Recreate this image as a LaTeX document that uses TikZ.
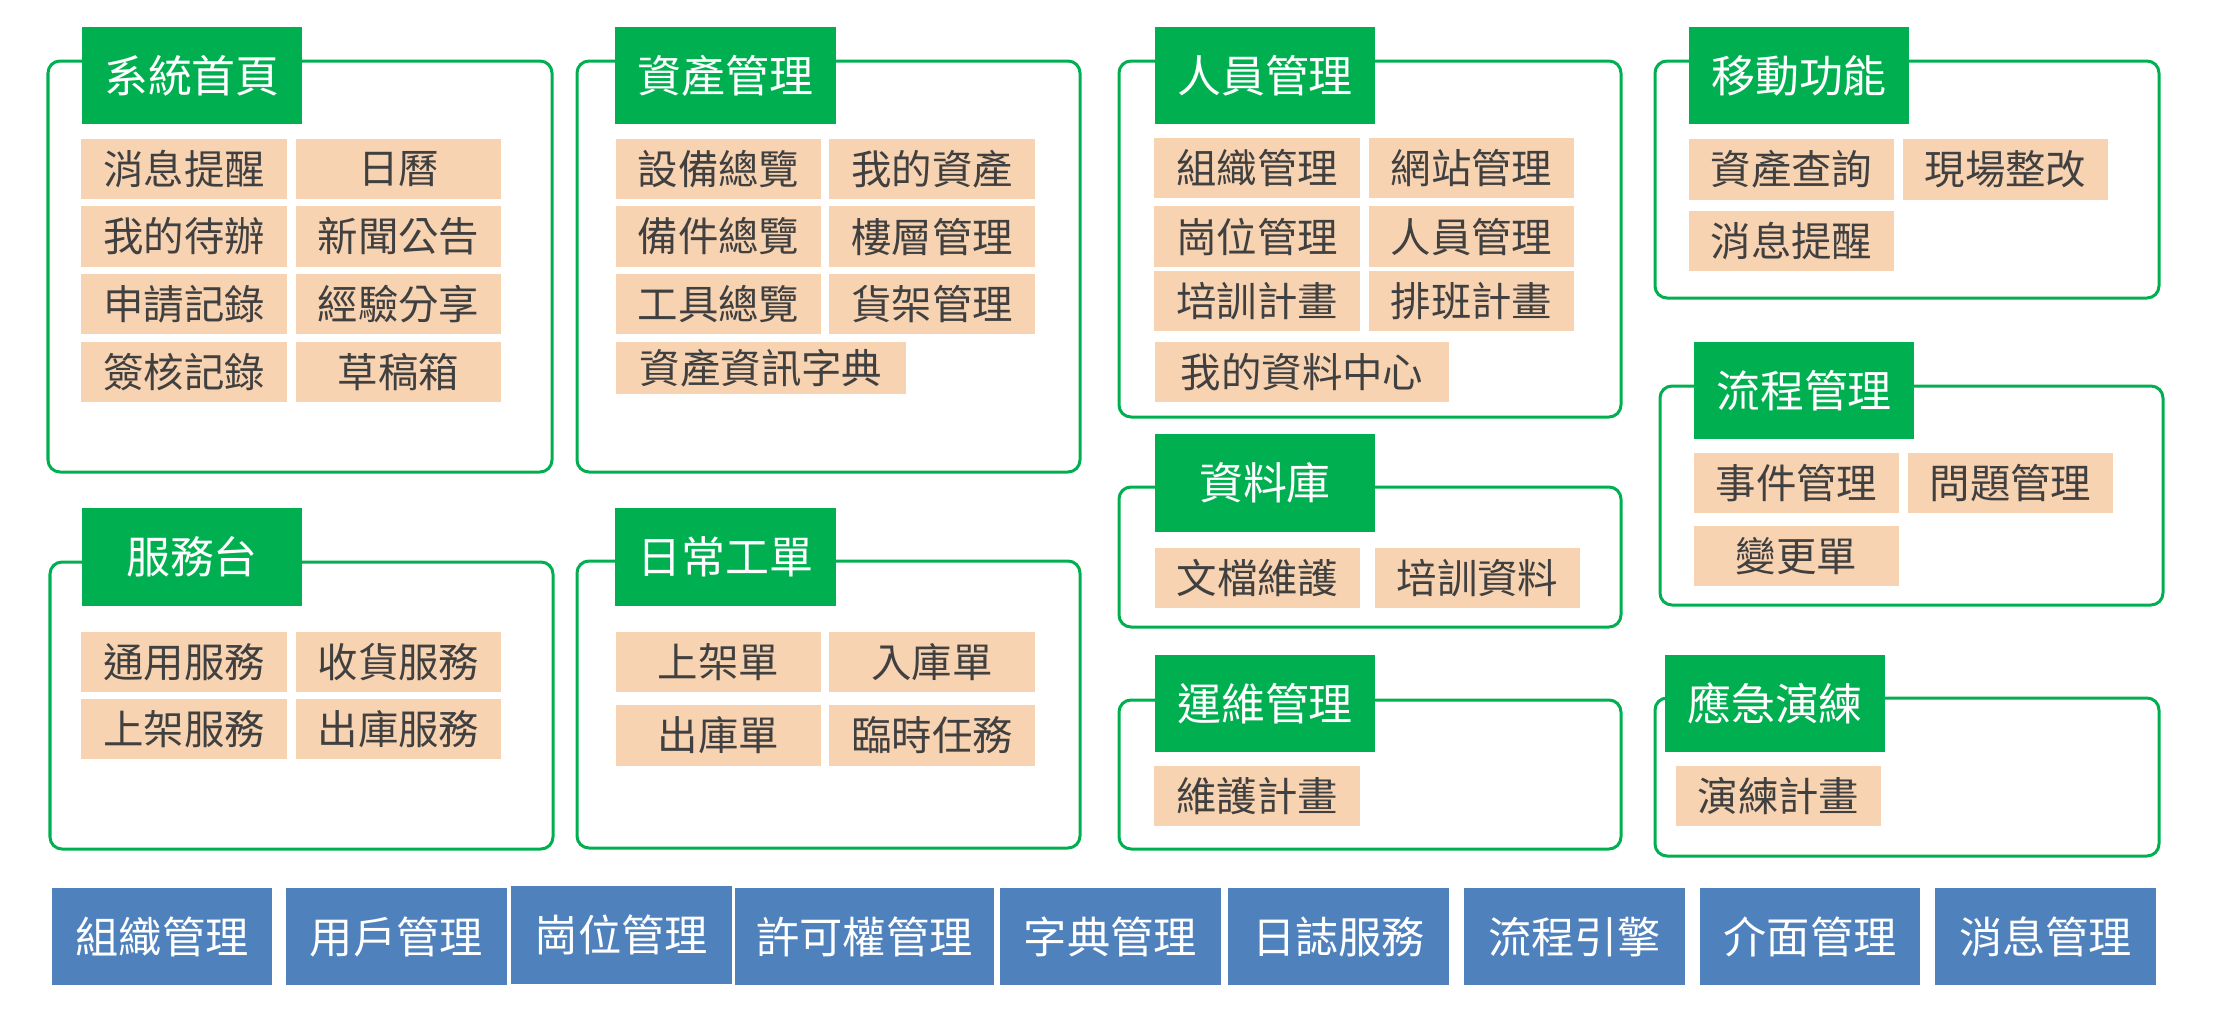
\documentclass[tikz,border=0pt]{standalone}
\usepackage{fontspec}
\setmainfont{Noto Sans CJK TC}
\usepackage{xcolor}
\usepackage{tikz}
\usetikzlibrary{positioning}
\definecolor{hdrgreen}{HTML}{00B050}
\definecolor{itempeach}{HTML}{F8D3B1}
\definecolor{barblue}{HTML}{4F81BD}
\definecolor{itemtext}{HTML}{404040}
\tikzset{frame/.style={draw=hdrgreen,line width=0.03cm,rounded corners=0.12cm}}
\tikzset{hdr/.style={fill=hdrgreen,text=white,inner sep=0pt,minimum width=2.2cm,minimum height=0.97cm,font=\fontsize{12.5}{14}\selectfont}}
\tikzset{item/.style={fill=itempeach,text=itemtext,inner sep=0pt,minimum width=2.05cm,minimum height=0.6cm,font=\fontsize{11.5}{13}\selectfont}}
\tikzset{bar/.style={fill=barblue,text=white,inner sep=0pt,minimum width=2.2cm,minimum height=0.97cm,font=\fontsize{12.3}{14}\selectfont}}

\begin{document}
\begin{tikzpicture}[x=0.01cm, y=-0.01cm]
        \useasboundingbox (0,0) rectangle (2226,1014);
        % frames
        \draw[frame] (48,61) rectangle (552,472);
        \draw[frame] (577,61) rectangle (1080,472);
        \draw[frame] (1119,61) rectangle (1621,417);
        \draw[frame] (1655,61) rectangle (2159,298);
        \draw[frame] (1660,386) rectangle (2163,605);
        \draw[frame] (1119,487) rectangle (1621,627);
        \draw[frame] (1119,700) rectangle (1621,849);
        \draw[frame] (1655,698) rectangle (2159,856);
        \draw[frame] (50,562) rectangle (553,849);
        \draw[frame] (577,561) rectangle (1080,848);
        % headers
        \node[hdr] (home) at (192,75.5) {系統首頁};
        \node[hdr] (asset) at (725.5,75.5) {資產管理};
        \node[hdr] (staff) at (1265,75.5) {人員管理};
        \node[hdr] (mobile) at (1799,75.5) {移動功能};
        \node[hdr] (flow) at (1804,390.5) {流程管理};
        \node[hdr] (db) at (1265,483) {資料庫};
        \node[hdr] (ops) at (1265,703.5) {運維管理};
        \node[hdr] (drill) at (1775,703.5) {應急演練};
        \node[hdr] (desk) at (192,557) {服務台};
        \node[hdr] (daily) at (725.5,557) {日常工單};
        % 系統首頁
        \node[item] (home1) at (184,169) {消息提醒};
        \node[item] (home2) at (398.5,169) {日曆};
        \node[item] (home3) at (184,236.5) {我的待辦};
        \node[item] (home4) at (398.5,236.5) {新聞公告};
        \node[item] (home5) at (184,304) {申請記錄};
        \node[item] (home6) at (398.5,304) {經驗分享};
        \node[item] (home7) at (184,372) {簽核記錄};
        \node[item] (home8) at (398.5,372) {草稿箱};
        % 資產管理
        \node[item] (asset1) at (718.5,169) {設備總覽};
        \node[item] (asset2) at (932,169) {我的資產};
        \node[item] (asset3) at (718.5,236.5) {備件總覽};
        \node[item] (asset4) at (932,236.5) {樓層管理};
        \node[item] (asset5) at (718.5,304) {工具總覽};
        \node[item] (asset6) at (932,304) {貨架管理};
        \node[item, minimum width=2.9cm, minimum height=0.52cm] (asset7) at (761,368) {資產資訊字典};
        % 人員管理
        \node[item] (staff1) at (1257,168) {組織管理};
        \node[item] (staff2) at (1471.5,168) {網站管理};
        \node[item] (staff3) at (1257,236.5) {崗位管理};
        \node[item] (staff4) at (1471.5,236.5) {人員管理};
        \node[item] (staff5) at (1257,301) {培訓計畫};
        \node[item] (staff6) at (1471.5,301) {排班計畫};
        \node[item, minimum width=2.94cm] (staff7) at (1302,372) {我的資料中心};
        % 移動功能
        \node[item] (mobile1) at (1791.5,169.5) {資產查詢};
        \node[item] (mobile2) at (2005.5,169.5) {現場整改};
        \node[item] (mobile3) at (1791.5,241) {消息提醒};
        % 流程管理
        \node[item] (flow1) at (1796.5,483) {事件管理};
        \node[item] (flow2) at (2010.5,483) {問題管理};
        \node[item] (flow3) at (1796.5,556) {變更單};
        % 資料庫
        \node[item] (db1) at (1257.5,578) {文檔維護};
        \node[item] (db2) at (1477.5,578) {培訓資料};
        % 運維管理
        \node[item] (ops1) at (1257,796) {維護計畫};
        % 應急演練
        \node[item] (drill1) at (1778.5,796) {演練計畫};
        % 服務台
        \node[item] (desk1) at (184,662) {通用服務};
        \node[item] (desk2) at (398.5,662) {收貨服務};
        \node[item] (desk3) at (184,729) {上架服務};
        \node[item] (desk4) at (398.5,729) {出庫服務};
        % 日常工單
        \node[item] (daily1) at (718.5,662) {上架單};
        \node[item] (daily2) at (932,662) {入庫單};
        \node[item] (daily3) at (718.5,735.5) {出庫單};
        \node[item] (daily4) at (932,735.5) {臨時任務};
        % base services
        \node[bar] (org) at (162,936.5) {組織管理};
        \node[bar] (user) at (396.5,936.5) {用戶管理};
        \node[bar] (post) at (621.5,935) {崗位管理};
        \node[bar, minimum width=2.59cm] (perm) at (864.5,936.5) {許可權管理};
        \node[bar] (dict) at (1110.5,936.5) {字典管理};
        \node[bar] (log) at (1338.5,936.5) {日誌服務};
        \node[bar] (engine) at (1574.5,936.5) {流程引擎};
        \node[bar] (ui) at (1810,936.5) {介面管理};
        \node[bar] (msg) at (2045.5,936.5) {消息管理};
\end{tikzpicture}
\end{document}
